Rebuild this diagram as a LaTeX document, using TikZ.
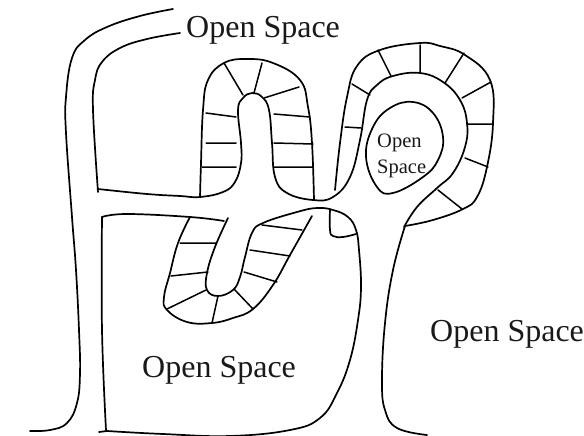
\documentclass[tikz,border=0pt]{standalone}
\usepackage{fontspec}
\setmainfont{Liberation Serif}
\tikzset{
  ink/.style={line width=1.7pt,line cap=round,line join=round,black},
  rung/.style={line width=1.5pt,line cap=round,black},
  big/.style={inner sep=0pt,anchor=base west,font=\fontsize{32}{34}\selectfont,text=black!90},
  small/.style={inner sep=0pt,anchor=base west,font=\fontsize{20.5}{22}\selectfont,text=black!90}
}
\newcommand{\cv}[1]{\draw[ink] plot[smooth,tension=.7] coordinates {#1};}
\begin{document}
\begin{tikzpicture}[x=1pt,y=-1pt]
\useasboundingbox (0,0) rectangle (584,436);
% left outer
\cv{(173,9)(140,16)(107,27)(85,40)(72,58)(66,97)(66,133)(72,217)(76,270)(79,330)(80,373)(77,403)(67,423)(50,430)(30,431)}
% inner left
\cv{(180,33)(147,39)(120,48)(102,62)(95,80)(93,110)(98,192)}
% long winding line
\cv{(98,189)(147,194)(180,196)(200,197)(223,192)(235,182)(241,163)(241,143)(238,110)(243,98)(252,93)(262,97)(269,110)(272,143)(275,177)(287,193)(313,200)(333,197)(350,177)(360,140)(367,100)(377,85)(393,76)(420,73)(443,82)(460,100)(467,123)(465,147)(453,173)(437,188)(417,207)(404,227)}
% outer of right spiral
\cv{(405,226)(433,220)(463,209)(477,197)(487,167)(493,123)(490,80)(465,55)(440,46)(420,43)(380,50)(357,66)(347,97)(340,143)(335,190)}
% trunk right side
\cv{(405,226)(393,270)(385,323)(382,380)(385,410)(397,428)(427,435)}
% upper finger
\cv{(200,197)(201,163)(203,110)(208,80)(224,63)(247,59)(273,63)(300,80)(308,107)(312,143)(314,200)}
% inner island
\draw[ink] plot[smooth cycle,tension=.7] coordinates {(413,102)(433,113)(443,137)(438,160)(423,177)(393,193)(377,187)(366,157)(373,127)(390,108)};
% lower box
\cv{(102,217)(102,330)(106,430)}
\cv{(102,217)(127,214)(190,217)(224,221)}
\draw[ink] (99,432) -- (107,431);
\cv{(107,431)(163,434)(230,436)(290,430)(320,418)(337,393)(350,360)(358,320)(361,287)(359,250)(356,230)(348,217)(333,210)(317,208)(297,212)(263,223)(252,233)(245,257)(240,277)(233,290)(218,296)(207,290)(207,273)(215,247)(228,218)}
\cv{(190,217)(178,243)(170,273)(164,297)(167,310)(187,322)(212,323)(233,318)(253,309)(273,285)(290,255)(312,216)}
\cv{(330,209)(330,230)(333,236)(343,237)(356,234)}
% rungs upper finger and spiral
\draw[rung] (224,63)--(243,95) (262,63)--(254,93) (299,87)--(264,98) (206,113)--(236,117) (206,143)--(236,143) (202,167)--(236,167) (274,114)--(310,117) (274,143)--(313,144) (274,167)--(313,167);
\draw[rung] (345,127)--(361,128) (352,84)--(370,95) (378,50)--(391,76) (420,45)--(420,73) (464,53)--(445,83) (491,82)--(462,98) (467,124)--(492,124) (465,158)--(488,167) (438,190)--(462,209);
% rungs lower U
\draw[rung] (180,243)--(216,243) (171,276)--(208,272) (167,309)--(206,290) (212,323)--(218,296) (253,309)--(234,289) (244,272)--(277,282) (250,250)--(290,256) (262,225)--(302,230);
% labels
\node[big] (ot) at (186,38) {Open Space};
\node[big] (or) at (430,341) {Open Space};
\node[big] (ol) at (142,377) {Open Space};
\node[small] (oi) at (377,147) {Open};
\node[small] (si) at (377,173) {Space};
\end{tikzpicture}
\end{document}
